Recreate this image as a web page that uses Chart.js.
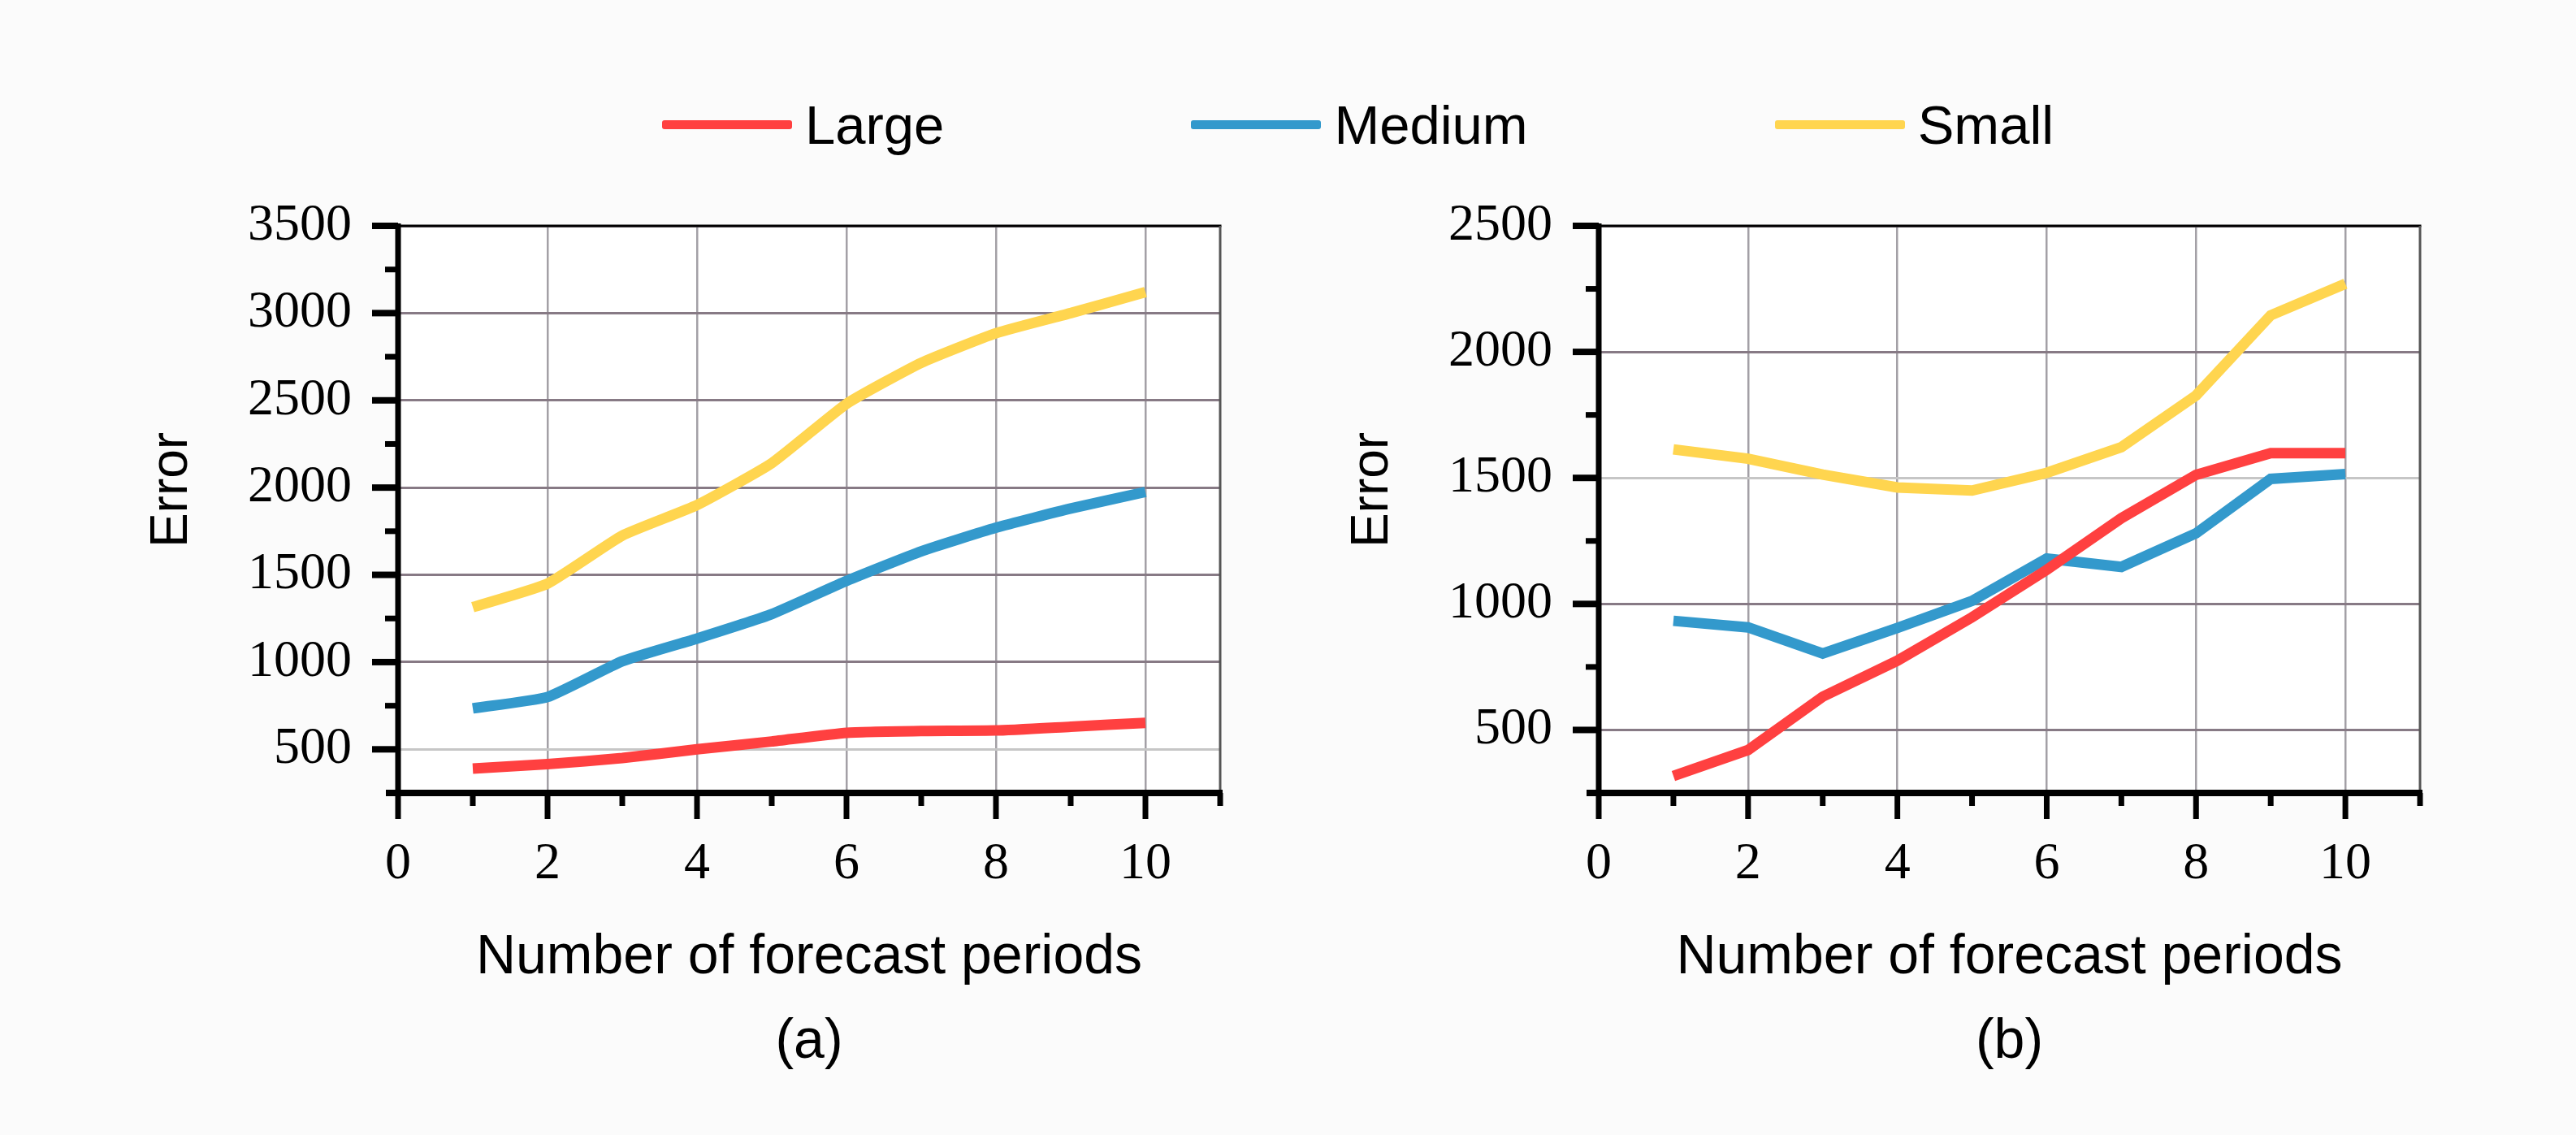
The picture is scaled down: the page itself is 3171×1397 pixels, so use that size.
<!DOCTYPE html>
<html>
<head>
<meta charset="utf-8">
<script src="https://cdn.jsdelivr.net/npm/chart.js"></script>
<style>
  html, body { margin: 0; padding: 0; }
  body { width: 3171px; height: 1397px; overflow: hidden; background: #fbfbfb; position: relative; }
  .box { position: absolute; top: 0; height: 1397px; }
  #legend { position: absolute; left: 815px; top: 113px; height: 80px; display: flex; align-items: center; gap: 304px;
            font-family: "Liberation Sans", Arial, sans-serif; font-size: 67px; line-height: 1; color: #000; }
  .item { display: flex; align-items: center; }
  .swatch { width: 160px; height: 11px; border-radius: 3px; margin-right: 16px; }
</style>
</head>
<body>
<div id="legend"></div>
<div class="box" style="left:0; width:1540px;"><canvas id="chartA"></canvas></div>
<div class="box" style="left:1478px; width:1693px;"><canvas id="chartB"></canvas></div>
<script>
// shared
const periods = [1, 2, 3, 4, 5, 6, 7, 8, 9, 10];
const xTicks = [0, 2, 4, 6, 8, 10];
const xMinor = [1, 3, 5, 7, 9, 11];
const seriesNames = ['Large', 'Medium', 'Small'];
const seriesColors = ['#ff4040', '#3399cc', '#ffd54f'];

// panel (a)
const largeA = [390, 415, 450, 500, 545, 595, 605, 608, 630, 652];
const mediumA = [735, 800, 1005, 1135, 1275, 1465, 1635, 1770, 1880, 1975];
const smallA = [1315, 1450, 1725, 1900, 2140, 2480, 2715, 2885, 3000, 3120];
const yTicksA = [500, 1000, 1500, 2000, 2500, 3000, 3500];
const yMinorA = [750, 1250, 1750, 2250, 2750, 3250];

// panel (b)
const largeB = [317, 420, 632, 775, 947, 1135, 1340, 1512, 1598, 1598];
const mediumB = [933, 907, 803, 905, 1012, 1180, 1147, 1280, 1496, 1515];
const smallB = [1613, 1576, 1513, 1462, 1450, 1520, 1622, 1827, 2145, 2270];
const yTicksB = [500, 1000, 1500, 2000, 2500];
const yMinorB = [750, 1250, 1750, 2250];

// legend
const legend = document.getElementById('legend');
seriesNames.forEach((name, i) => {
    const item = document.createElement('div');
    item.className = 'item';
    item.innerHTML = `<span class="swatch" style="background:${seriesColors[i]}"></span><span>${name}</span>`;
    legend.appendChild(item);
});

// white plot area, black axes with Origin-like ticks, rotated y title
const frame = {
    id: 'frame',
    beforeDraw(chart) {
        const { ctx, chartArea: a } = chart;
        ctx.save();
        ctx.fillStyle = '#ffffff';
        ctx.fillRect(a.left, a.top, a.right - a.left, a.bottom - a.top);
        ctx.restore();
    },
    afterDraw(chart) {
        const { ctx, chartArea: a, scales: { x, y } } = chart;
        const o = chart.options.plugins.frame;
        const line = (x1, y1, x2, y2) => { ctx.beginPath(); ctx.moveTo(x1, y1); ctx.lineTo(x2, y2); ctx.stroke(); };
        ctx.save();
        ctx.lineCap = 'butt';
        ctx.strokeStyle = '#000';
        ctx.lineWidth = 3;
        line(a.left, a.top, a.right + 1.5, a.top);
        ctx.strokeStyle = '#555';
        line(a.right, a.top, a.right, a.bottom);
        ctx.strokeStyle = '#000';

        ctx.lineWidth = 8;
        o.yMajor.forEach(v => { const p = y.getPixelForValue(v); line(a.left - 32, p, a.left, p); });
        ctx.lineWidth = 7;
        o.yMinor.forEach(v => { const p = y.getPixelForValue(v); line(a.left - 16, p, a.left, p); });
        xTicks.forEach(v => { const p = x.getPixelForValue(v); line(p, a.bottom, p, a.bottom + 32); });
        xMinor.forEach(v => { const p = x.getPixelForValue(v); line(p, a.bottom, p, a.bottom + 16); });

        line(a.left, a.top - 3, a.left, a.bottom + 4);
        ctx.lineWidth = 8;
        line(a.left - 15, a.bottom, a.right + 3, a.bottom);

        ctx.fillStyle = '#000';
        ctx.font = '64px "Liberation Sans", Arial, sans-serif';
        ctx.textAlign = 'center';
        ctx.textBaseline = 'middle';
        ctx.translate(a.left - 278, 603);
        ctx.rotate(-Math.PI / 2);
        ctx.fillText('Error', 0, 0);
        ctx.restore();
    }
};

function makeChart(id, series, yMax, yTicks, yMinor, pale, tag, padRight, tension) {
    return new Chart(document.getElementById(id), {
        type: 'line',
        data: {
            labels: periods,
            datasets: series.map((vals, i) => ({
                label: seriesNames[i],
                data: periods.map((p, j) => ({ x: p, y: vals[j] })),
                borderColor: seriesColors[i],
                backgroundColor: seriesColors[i],
                borderWidth: 13,
                pointRadius: 0,
                tension: tension
            }))
        },
        options: {
            responsive: true,
            maintainAspectRatio: false,
            animation: false,
            devicePixelRatio: 1,
            layout: { padding: { top: 278, right: padRight, left: 0, bottom: 0 } },
            plugins: {
                legend: { display: false },
                tooltip: { enabled: false },
                frame: { yMajor: yTicks, yMinor: yMinor }
            },
            scales: {
                x: {
                    type: 'linear',
                    min: 0,
                    max: 11,
                    afterBuildTicks: s => { s.ticks = xTicks.map(v => ({ value: v })); },
                    afterFit: s => { s.height = 421; },
                    border: { display: false },
                    grid: { color: '#a3a0a6', lineWidth: 2.5, drawTicks: false },
                    ticks: {
                        padding: 50,
                        maxRotation: 0,
                        color: '#000',
                        callback: v => String(v),
                        font: { family: '"Liberation Serif", "Times New Roman", serif', size: 64 }
                    },
                    title: {
                        display: true,
                        text: ['Number of forecast periods', tag],
                        color: '#000',
                        padding: { top: 0, bottom: 62 },
                        font: { family: '"Liberation Sans", Arial, sans-serif', size: 68, lineHeight: 1.53 }
                    }
                },
                y: {
                    min: 250,
                    max: yMax,
                    afterBuildTicks: s => { s.ticks = yTicks.map(v => ({ value: v })); },
                    afterFit: s => { s.width = 490; },
                    border: { display: false },
                    grid: {
                        color: c => (c.tick && c.tick.value === pale) ? '#c6c6c6' : '#877a85',
                        lineWidth: 3,
                        drawTicks: false
                    },
                    ticks: {
                        padding: 57,
                        color: '#000',
                        callback: v => String(v),
                        font: { family: '"Liberation Serif", "Times New Roman", serif', size: 64 }
                    }
                }
            }
        },
        plugins: [frame]
    });
}

makeChart('chartA', [largeA, mediumA, smallA], 3500, yTicksA, yMinorA, 500, '(a)', 38, 0.15);
makeChart('chartB', [largeB, mediumB, smallB], 2500, yTicksB, yMinorB, 1500, '(b)', 192, 0);
</script>
</body>
</html>
